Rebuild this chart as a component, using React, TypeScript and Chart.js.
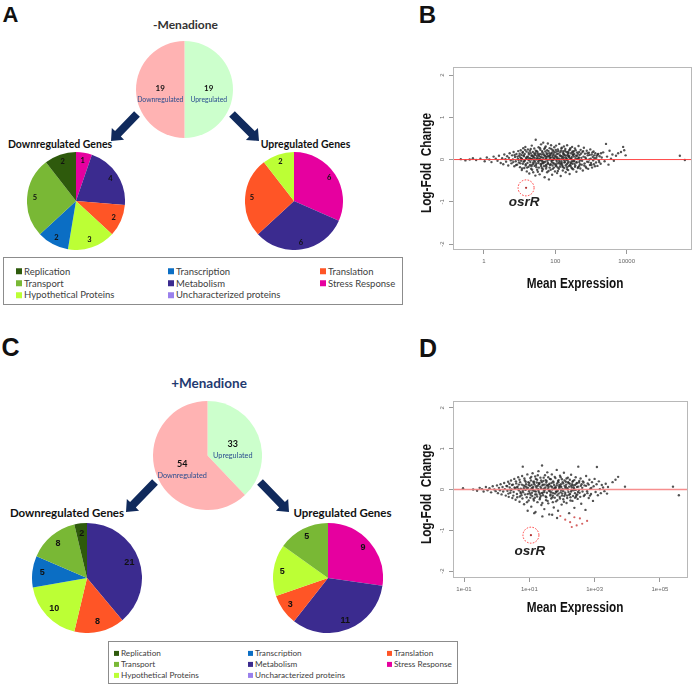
import React, { useEffect, useRef } from "react";
import { Chart, registerables } from "chart.js";
Chart.register(...registerables);

// ---------- DATA ----------
const categories = [
  "Replication", "Transcription", "Translation",
  "Transport", "Metabolism", "Stress Response",
  "Hypothetical Proteins", "Uncharacterized proteins",
];
const categoryColors = [
  "#2E5A0C", "#0B6EC4", "#FF5526",
  "#79B835", "#3B2B8F", "#E6009F",
  "#BCFF35", "#9A80EC",
];

const regLabels = ["Upregulated", "Downregulated"];
const regColors = ["#CCFFCC", "#FFB3B3"];
const minusRegCounts = [19, 19];
const plusRegCounts = [33, 54];

const minusDownCats = ["Stress Response", "Metabolism", "Translation", "Hypothetical Proteins", "Transcription", "Transport", "Replication"];
const minusDownCounts = [1, 4, 2, 3, 2, 5, 2];
const minusUpCats = ["Stress Response", "Metabolism", "Translation", "Hypothetical Proteins"];
const minusUpCounts = [6, 6, 5, 2];
const plusDownCats = ["Metabolism", "Translation", "Hypothetical Proteins", "Transcription", "Transport", "Replication"];
const plusDownCounts = [21, 8, 10, 5, 8, 2];
const plusUpCats = ["Stress Response", "Metabolism", "Translation", "Hypothetical Proteins", "Transport"];
const plusUpCounts = [9, 11, 3, 5, 5];

const yTickValues = [-2, -1, 0, 1, 2];
const yTickLabels = ["-2", "-1", "0", "1", "2"];
const bTickValues = [1, 100, 10000];
const bTickLabels = ["1", "100", "10000"];
const dTickValues = [0.1, 10, 1000, 100000];
const dTickLabels = ["1e-01", "1e+01", "1e+03", "1e+05"];

// [log10(mean expression), log-fold change]
const bOsrR: [number, number] = [1.18, -0.67];
const bPoints: [number, number][] = [
  [-0.65,0.01],[-0.52,-0.02],[-0.40,0.00],[-0.31,0.03],[-0.22,-0.01],[-0.10,0.02],[0.02,-0.04],[0.08,0.05],[0.15,0.00],[0.21,-0.06],[0.27,0.07],[0.33,0.02],[0.38,-0.03],[0.42,0.09],[0.47,-0.08],
  [0.51,0.03],[0.54,-0.11],[0.57,0.12],[0.60,0.01],[0.62,-0.05],[0.65,0.08],[0.68,-0.14],[0.70,0.04],[0.72,0.15],[0.75,-0.02],[0.77,-0.09],[0.79,0.10],[0.81,0.00],[0.83,0.18],[0.85,-0.16],[0.87,0.06],[0.89,-0.04],[0.91,0.13],[0.93,-0.12],[0.95,0.02],[0.96,0.20],[0.98,-0.07],[0.99,0.09],
  [1.01,-0.18],[1.02,0.05],[1.03,0.22],[1.04,-0.03],[1.05,0.11],[1.06,-0.25],[1.07,0.01],[1.08,0.16],[1.09,-0.10],[1.10,0.27],[1.11,-0.05],[1.12,0.08],[1.13,-0.20],[1.14,0.13],[1.15,-0.01],[1.16,0.30],[1.17,-0.14],[1.18,0.04],[1.19,0.19],[1.20,-0.28],[1.21,0.07],[1.22,-0.08],[1.23,0.24],[1.24,0.00],[1.25,-0.17],[1.26,0.12],[1.27,-0.33],[1.28,0.03],[1.29,0.21],[1.30,-0.06],[1.31,0.15],[1.32,-0.22],[1.33,0.09],[1.34,0.33],[1.35,-0.12],[1.36,0.02],[1.37,0.18],[1.38,-0.30],[1.39,0.06],[1.40,-0.02],[1.41,0.26],[1.42,-0.15],[1.43,0.11],[1.44,-0.38],[1.45,0.47],[1.46,0.00],[1.47,-0.09],[1.48,0.20],[1.49,-0.24],[1.50,0.05],
  [1.51,0.14],[1.52,-0.04],[1.53,0.29],[1.54,-0.19],[1.55,0.08],[1.56,-0.35],[1.57,0.01],[1.58,0.23],[1.59,-0.11],[1.60,0.36],[1.61,-0.02],[1.62,0.12],[1.63,-0.27],[1.64,0.17],[1.65,-0.07],[1.66,0.40],[1.67,0.04],[1.68,-0.16],[1.69,0.25],[1.70,-0.42],[1.71,0.09],[1.72,-0.05],[1.73,0.31],[1.74,-0.21],[1.75,0.02],[1.76,0.15],[1.77,-0.30],[1.78,0.07],[1.79,0.38],[1.80,-0.10],[1.81,0.20],[1.82,-0.47],[1.83,0.00],[1.84,0.27],[1.85,-0.13],[1.86,0.11],[1.87,-0.24],[1.88,0.34],[1.89,-0.03],[1.90,0.16],[1.91,-0.36],[1.92,0.06],[1.93,0.22],[1.94,-0.08],[1.95,0.13],[1.96,-0.19],[1.97,0.29],[1.98,0.01],[1.99,-0.28],
  [2.00,0.10],[2.01,-0.14],[2.02,0.33],[2.03,-0.01],[2.04,0.19],[2.05,-0.32],[2.06,0.05],[2.07,0.24],[2.08,-0.09],[2.09,0.14],[2.10,-0.22],[2.11,0.37],[2.12,0.02],[2.13,-0.17],[2.14,0.09],[2.15,-0.39],[2.16,0.21],[2.17,-0.04],[2.18,0.28],[2.19,-0.12],[2.20,0.07],[2.21,-0.26],[2.22,0.16],[2.23,0.00],[2.24,0.31],[2.25,-0.20],[2.26,0.11],[2.27,-0.06],[2.28,0.25],[2.29,-0.30],[2.30,0.04],[2.31,0.18],[2.32,-0.11],[2.33,0.34],[2.34,-0.02],[2.35,0.13],[2.36,-0.25],[2.37,0.08],[2.38,-0.15],[2.39,0.22],[2.40,-0.34],[2.41,0.03],[2.42,0.27],[2.43,-0.07],[2.44,0.15],[2.45,-0.19],[2.46,0.06],[2.47,0.30],[2.48,-0.10],[2.49,0.12],
  [2.50,-0.23],[2.52,0.20],[2.53,-0.03],[2.55,0.26],[2.56,-0.14],[2.58,0.09],[2.59,-0.29],[2.61,0.17],[2.62,0.01],[2.64,-0.18],[2.65,0.32],[2.67,-0.06],[2.68,0.11],[2.70,-0.21],[2.71,0.23],[2.73,0.04],[2.74,-0.12],[2.76,0.18],[2.77,-0.26],[2.79,0.07],[2.80,0.28],[2.82,-0.09],[2.83,0.14],[2.85,-0.17],[2.86,0.02],[2.88,0.21],[2.89,-0.05],[2.91,0.10],[2.92,-0.22],[2.94,0.16],[2.95,0.00],[2.97,-0.13],[2.98,0.24],[3.00,-0.08],[3.02,0.12],[3.03,-0.19],[3.05,0.06],[3.07,0.19],[3.08,-0.11],[3.10,0.03],[3.12,0.15],[3.14,-0.07],[3.16,0.09],[3.18,-0.15],[3.20,0.13],[3.22,-0.02],[3.24,0.08],[3.27,-0.10],[3.30,0.05],
  [3.34,0.17],[3.38,-0.04],[3.42,0.37],[3.45,0.07],[3.49,-0.12],[3.52,0.21],[3.56,0.02],[3.60,0.12],[3.64,-0.03],[3.70,0.09],[3.76,0.15],[3.84,0.18],[3.90,0.30],[3.93,0.22],[3.97,0.10],
  [5.49,0.09],[5.63,-0.01],
  [1.31,0.02],[1.35,0.10],[1.38,-0.07],[1.42,0.04],[1.46,-0.13],[1.50,0.18],[1.53,-0.08],[1.57,0.13],[1.60,-0.15],[1.63,0.05],[1.66,-0.09],[1.69,0.10],[1.72,0.19],[1.75,-0.12],[1.78,-0.03],[1.81,0.08],[1.84,-0.19],[1.87,0.04],[1.90,-0.06],[1.93,0.10],[1.96,0.03],[1.99,0.17],[2.02,-0.11],[2.05,0.13],[2.08,0.01],[2.11,-0.07],[2.14,0.17],[2.17,0.08],[2.20,-0.15],[2.23,0.12],[2.26,-0.02],[2.29,0.09],[2.32,0.02],[2.35,-0.08],[2.38,0.06],[2.41,-0.13],[2.44,0.01],[2.47,-0.04],[2.50,0.11],[2.54,-0.10],[2.57,0.03],[2.60,-0.07],[2.63,0.14],[2.66,0.05],[2.69,-0.02],[1.33,-0.16],[1.48,0.09],[1.62,-0.20],[1.77,0.12],[1.92,-0.14],[2.07,-0.19],[2.22,0.20],[2.37,0.16],[2.52,0.07],[2.67,-0.15],[1.58,-0.01],[1.73,-0.14],[1.88,0.14],[2.03,0.06],[2.18,-0.08],[2.33,-0.18],[2.48,0.19],[1.44,0.15],[1.54,0.01],[1.64,-0.04],[1.74,0.06],[1.84,0.09],[1.94,-0.01],[2.04,-0.05],[2.14,-0.12],[2.24,0.05],[2.34,0.10],[2.44,-0.09],
  [0.82,-0.06],[0.86,0.11],[0.90,-0.13],[0.94,0.07],[0.97,-0.01],[1.00,0.14],[1.02,-0.09],[1.05,0.03],[1.07,-0.21],[1.09,0.18],[1.11,0.10],[1.13,-0.04],[1.15,0.23],[1.17,-0.11],[1.19,0.02],[1.21,-0.19],[1.23,0.06],[1.25,0.16],[1.27,-0.02],[1.29,-0.13],[1.31,0.25],[1.33,0.00],[1.35,-0.24],[1.37,0.08],[1.39,-0.10],[1.41,0.14],[1.43,-0.05],[1.45,0.21],[1.47,-0.18],[1.49,0.02],[1.51,-0.29],[1.53,0.11],[1.55,-0.02],[1.57,0.27],[1.59,0.06],[1.61,-0.10],[1.63,0.20],[1.65,-0.23],[1.67,0.13],[1.69,-0.06],[1.71,0.28],[1.73,0.01],[1.75,-0.17],[1.77,0.22],[1.79,-0.08],[1.81,-0.27],[1.83,0.15],[1.85,0.05],[1.87,-0.11],[1.89,0.25],[1.91,-0.01],[1.93,-0.22],[1.95,0.19],[1.97,-0.10],[1.99,0.07],[2.01,0.23],[2.03,-0.16],[2.05,0.01],[2.07,-0.27],[2.09,0.20],[2.11,-0.03],[2.13,0.10],[2.15,-0.09],[2.17,0.26],[2.19,0.03],[2.21,-0.18],[2.23,0.14],[2.25,-0.07],[2.27,0.21],[2.29,-0.14],[2.31,0.00],[2.33,-0.23],[2.35,0.18],[2.37,-0.05],[2.39,0.09],[2.41,0.24],[2.43,-0.15],[2.45,0.02],[2.47,-0.21],[2.49,0.17],[2.51,-0.04],[2.53,0.13],[2.55,-0.17],[2.57,0.22],[2.59,-0.06],[2.61,0.09],[2.63,-0.20],[2.65,0.03],[2.67,0.18],[2.69,-0.11],[2.72,0.14],[2.75,-0.03],[2.78,0.20],[2.81,-0.14],[2.84,0.05],[2.87,-0.20],[2.90,0.15],[2.93,-0.06],[2.96,0.11],[2.99,0.02],[3.01,-0.13],[3.04,0.17],[3.06,-0.02],[3.09,0.10],[3.11,-0.16],[3.15,0.04],[3.19,0.12],[3.23,-0.06],[3.28,0.15],
];
const bSigPoints: [number, number][] = [];

const dOsrR: [number, number] = [1.05, -1.12];
const dPoints: [number, number][] = [
  [-1.03,0.03],[-0.72,0.00],[-0.60,-0.03],[-0.52,0.04],[-0.45,0.01],[-0.40,-0.05],[-0.33,0.06],[-0.28,-0.02],[-0.22,0.03],[-0.17,-0.07],[-0.12,0.08],[-0.07,0.00],[-0.03,-0.04],
  [0.01,0.10],[0.04,-0.09],[0.07,0.04],[0.10,-0.02],[0.12,0.13],[0.15,-0.12],[0.18,0.06],[0.20,-0.05],[0.23,0.16],[0.25,0.01],[0.28,-0.15],[0.30,0.09],[0.33,-0.03],[0.35,0.19],[0.37,-0.18],[0.40,0.05],[0.42,-0.08],[0.44,0.22],[0.46,0.00],[0.48,-0.21],
  [0.50,0.12],[0.52,-0.06],[0.54,0.26],[0.56,0.03],[0.58,-0.25],[0.60,0.15],[0.62,-0.11],[0.64,0.07],[0.66,0.30],[0.68,-0.02],[0.70,-0.30],[0.72,0.18],[0.74,0.02],[0.76,-0.14],[0.78,0.33],[0.80,0.56],[0.81,-0.07],[0.82,0.10],[0.84,-0.36],[0.86,0.22],[0.88,-0.01],[0.90,0.13],[0.92,-0.19],[0.94,0.37],[0.96,0.04],[0.98,-0.27],
  [1.00,0.16],[1.01,-0.09],[1.03,0.28],[1.04,0.00],[1.06,-0.42],[1.07,0.11],[1.09,-0.16],[1.10,0.40],[1.12,0.06],[1.13,-0.23],[1.15,0.19],[1.16,-0.04],[1.18,0.32],[1.19,-0.55],[1.21,0.08],[1.22,-0.12],[1.24,0.24],[1.25,-0.31],[1.27,0.01],[1.28,0.45],[1.30,-0.07],[1.31,0.14],[1.33,-0.20],[1.34,0.29],[1.36,0.03],[1.37,-0.38],[1.39,0.59],[1.40,0.10],[1.42,-0.14],[1.43,0.21],[1.45,-0.02],[1.46,-0.48],[1.48,0.35],[1.49,0.05],
  [1.51,-0.26],[1.52,0.17],[1.54,-0.08],[1.55,0.42],[1.57,0.02],[1.58,-0.34],[1.60,0.12],[1.61,-0.61],[1.63,0.26],[1.64,-0.05],[1.66,0.08],[1.67,-0.22],[1.69,0.37],[1.70,0.00],[1.72,-0.15],[1.73,0.20],[1.75,-0.44],[1.76,0.11],[1.78,0.31],[1.79,-0.10],[1.81,0.04],[1.82,-0.29],[1.84,0.48],[1.85,0.15],[1.87,-0.03],[1.88,-0.52],[1.90,0.23],[1.91,0.07],[1.93,-0.18],[1.94,0.34],[1.96,-0.07],[1.97,0.13],[1.99,-0.37],
  [2.00,0.25],[2.02,0.01],[2.04,-0.24],[2.06,0.41],[2.08,0.09],[2.10,-0.12],[2.12,0.19],[2.14,-0.33],[2.16,0.03],[2.18,0.29],[2.20,-0.06],[2.22,-0.58],[2.24,0.14],[2.26,-0.19],[2.28,0.36],[2.30,0.05],[2.32,-0.28],[2.34,0.21],[2.36,-0.02],[2.38,-0.45],[2.40,0.11],[2.42,0.30],[2.44,-0.14],[2.46,0.06],[2.48,-0.23],[2.50,0.56],
  [2.52,0.17],[2.54,-0.08],[2.57,0.27],[2.59,-0.35],[2.62,0.04],[2.64,0.20],[2.67,-0.16],[2.69,0.10],[2.72,-0.50],[2.74,0.33],[2.77,-0.04],[2.79,0.15],[2.82,-0.21],[2.84,0.24],[2.87,0.02],[2.89,-0.11],[2.92,0.18],[2.95,-0.28],[2.97,0.08],[3.00,0.26],[3.03,-0.06],[3.06,0.13],[3.07,0.55],[3.10,-0.14],[3.13,0.20],[3.16,0.01],[3.19,-0.09],[3.22,0.11],[3.26,0.05],[3.30,-0.04],[3.34,0.14],[3.38,-0.10],[3.41,0.06],
  [3.55,0.18],[3.64,0.24],[3.72,0.31],[3.93,0.07],[5.40,0.07],[5.58,-0.14],
  [0.62,0.05],[0.68,0.12],[0.74,-0.09],[0.80,-0.03],[0.86,0.08],[0.92,0.01],[0.98,0.11],[1.04,-0.13],[1.08,0.04],[1.14,0.15],[1.20,-0.05],[1.26,0.09],[1.32,-0.11],[1.38,0.18],[1.44,0.02],[1.50,-0.17],[1.56,0.10],[1.62,-0.01],[1.68,0.16],[1.74,-0.09],[1.80,0.06],[1.86,-0.14],[1.92,0.11],[1.98,-0.02],[2.04,0.15],[2.10,0.04],[2.16,-0.15],[2.22,0.07],[2.28,-0.05],[2.34,0.10],[2.40,-0.09],[2.46,0.16],[2.52,-0.01],[2.58,0.09],[0.71,-0.17],[0.89,0.19],[1.05,0.22],[1.17,-0.20],[1.29,0.13],[1.41,-0.08],[1.53,0.21],[1.65,-0.12],[1.77,0.03],[1.89,0.18],[2.01,-0.10],[2.13,0.12],[2.25,-0.11],[2.37,0.02],[2.49,-0.06],[0.95,-0.11],[1.11,-0.02],[1.23,0.17],[1.35,-0.16],[1.47,0.12],[1.59,0.06],[1.71,-0.19],[1.83,-0.06],[1.95,0.08],[2.07,-0.16],[2.19,0.18],[2.31,0.13],[2.43,-0.18],
  [1.15,-0.58],[1.40,-0.66],[1.70,-0.62],[1.85,-0.70],[0.95,-0.52],
  [0.32,0.08],[0.36,-0.10],[0.39,0.14],[0.43,-0.02],[0.47,0.11],[0.51,-0.15],[0.55,0.05],[0.59,0.20],[0.63,-0.19],[0.67,0.01],[0.70,0.24],[0.73,-0.06],[0.77,0.12],[0.79,-0.22],[0.83,0.03],[0.85,0.27],[0.87,-0.12],[0.91,0.06],[0.93,-0.31],[0.97,0.18],[0.99,-0.04],[1.02,0.09],[1.03,-0.20],[1.06,0.31],[1.08,-0.08],[1.10,0.02],[1.12,0.19],[1.14,-0.27],[1.16,0.12],[1.18,-0.12],[1.20,0.26],[1.22,0.04],[1.24,-0.17],[1.26,0.35],[1.28,-0.03],[1.30,0.16],[1.32,-0.24],[1.34,0.07],[1.36,0.22],[1.38,-0.09],[1.40,-0.33],[1.42,0.12],[1.44,0.29],[1.46,-0.06],[1.48,0.00],[1.50,0.23],[1.52,-0.19],[1.54,0.10],[1.56,-0.28],[1.58,0.30],[1.60,-0.03],[1.62,0.14],[1.64,-0.15],[1.66,0.25],[1.68,-0.07],[1.70,0.06],[1.72,-0.31],[1.74,0.17],[1.76,0.01],[1.78,-0.20],[1.80,0.28],[1.82,-0.05],[1.84,0.10],[1.86,-0.26],[1.88,0.21],[1.90,-0.10],[1.92,0.03],[1.94,-0.22],[1.96,0.30],[1.98,0.06],[2.00,-0.15],[2.02,0.18],[2.04,-0.04],[2.06,-0.30],[2.08,0.22],[2.10,-0.08],[2.12,0.07],[2.14,0.27],[2.16,-0.21],[2.18,0.00],[2.20,0.16],[2.22,-0.13],[2.24,0.24],[2.26,-0.27],[2.28,0.09],[2.30,-0.02],[2.32,0.19],[2.34,-0.16],[2.36,0.05],[2.38,0.23],[2.40,-0.20],[2.42,-0.01],[2.44,0.14],[2.47,-0.12],[2.50,0.07],[2.53,0.21],[2.56,-0.18],[2.60,0.13],[2.63,-0.05],[2.66,0.17],[2.70,-0.13],[2.74,0.09],[2.78,-0.09],[2.82,0.12],[2.86,-0.15],[2.90,0.04],
];
const dSigPoints: [number, number][] = [
  [1.95,-0.65],[2.10,-0.74],[2.25,-0.80],[2.38,-0.68],[2.45,-0.88],[2.55,-0.71],[2.62,-0.84],[2.77,-0.77],[2.30,-0.92],
];

// ---------- PLUGINS ----------
const pieLabels = {
  id: "pieLabels",
  afterDatasetsDraw(chart: any, _a: any, o: any) {
    const ctx = chart.ctx;
    const meta = chart.getDatasetMeta(0);
    const vals = chart.data.datasets[0].data;
    const names = chart.data.labels;
    ctx.save();
    ctx.textAlign = "center";
    ctx.textBaseline = "middle";
    meta.data.forEach((arc: any, i: number) => {
      const p = arc.getProps(["x", "y", "startAngle", "endAngle", "outerRadius"], true);
      const mid = (p.startAngle + p.endAngle) / 2;
      const r = p.outerRadius * o.radial;
      const px = p.x + Math.cos(mid) * r;
      const py = p.y + Math.sin(mid) * r;
      ctx.font = o.numFont;
      ctx.fillStyle = "#111";
      ctx.fillText(String(vals[i]), px, py + (o.numDy || 0));
      if (o.showName) {
        ctx.font = o.nameFont;
        ctx.fillStyle = o.nameColor;
        ctx.fillText(names[i], px, py + o.nameDy);
      }
    });
    ctx.restore();
  },
};

const maDecor = {
  id: "maDecor",
  afterDatasetsDraw(chart: any, _a: any, o: any) {
    const ctx = chart.ctx;
    const a = chart.chartArea;
    const xs = chart.scales.x;
    const ys = chart.scales.y;
    ctx.save();
    const y0 = ys.getPixelForValue(0);
    ctx.strokeStyle = o.lineColor;
    ctx.lineWidth = o.lineWidth;
    ctx.beginPath();
    ctx.moveTo(a.left, y0);
    ctx.lineTo(a.right, y0);
    ctx.stroke();
    ctx.strokeStyle = "#b8b8b8";
    ctx.lineWidth = 1;
    ctx.strokeRect(a.left + 0.5, a.top + 0.5, a.right - a.left - 1, a.bottom - a.top - 1);
    ctx.fillStyle = "#666";
    ctx.font = "6px 'Liberation Sans'";
    ctx.textAlign = "center";
    ctx.textBaseline = "middle";
    yTickValues.forEach((v, i) => {
      const py = ys.getPixelForValue(v);
      ctx.save();
      ctx.translate(a.left - 11, py);
      ctx.rotate(-Math.PI / 2);
      ctx.fillText(yTickLabels[i], 0, 0);
      ctx.restore();
    });
    const ox = xs.getPixelForValue(o.osr.x);
    const oy = ys.getPixelForValue(o.osr.y);
    ctx.strokeStyle = "#ff3b3b";
    ctx.lineWidth = 1;
    ctx.setLineDash([1.6, 1.4]);
    ctx.beginPath();
    ctx.arc(ox, oy, 8, 0, Math.PI * 2);
    ctx.stroke();
    ctx.setLineDash([]);
    ctx.fillStyle = "#222";
    ctx.font = "italic bold 13.5px 'Liberation Sans'";
    ctx.fillText("osrR", ox + o.labelDx, oy + o.labelDy);
    ctx.restore();
  },
};

// ---------- COMPONENTS ----------
function PieChart(props: any) {
  const ref = useRef<HTMLCanvasElement | null>(null);
  useEffect(() => {
    const chart = new Chart(ref.current as HTMLCanvasElement, {
      type: "pie",
      data: {
        labels: props.labels,
        datasets: [{ data: props.values, backgroundColor: props.colors, borderWidth: 0 }],
      },
      options: {
        animation: false,
        responsive: false,
        events: [],
        layout: { padding: 0 },
        plugins: { legend: { display: false }, tooltip: { enabled: false }, pieLabels: props.labelOpts } as any,
      },
      plugins: [pieLabels],
    });
    return () => chart.destroy();
  }, []);
  return (
    <div style={{ position: "absolute", left: props.left, top: props.top }}>
      <canvas ref={ref} width={props.size} height={props.size} style={{ display: "block" }} />
    </div>
  );
}

function MAPlot(props: any) {
  const ref = useRef<HTMLCanvasElement | null>(null);
  useEffect(() => {
    const toXY = (p: [number, number]) => ({ x: Math.pow(10, p[0]), y: p[1] });
    const osr = toXY(props.osr);
    const chart = new Chart(ref.current as HTMLCanvasElement, {
      type: "scatter",
      data: {
        datasets: [
          { data: props.points.map(toXY), pointRadius: 1.2, pointBackgroundColor: "rgba(40,40,40,0.8)", pointBorderWidth: 0 },
          { data: props.sig.map(toXY), pointRadius: 1.1, pointBackgroundColor: "rgba(205,70,70,0.85)", pointBorderWidth: 0 },
          { data: [osr], pointRadius: 1.1, pointBackgroundColor: "#b03030", pointBorderWidth: 0 },
        ],
      },
      options: {
        animation: false,
        responsive: false,
        events: [],
        layout: { padding: { top: props.padTop, right: props.padRight, left: 0, bottom: 0 } },
        plugins: {
          legend: { display: false },
          tooltip: { enabled: false },
          maDecor: { osr, lineColor: props.lineColor, lineWidth: props.lineWidth, labelDx: props.labelDx, labelDy: props.labelDy },
        } as any,
        scales: {
          x: {
            type: "logarithmic",
            min: props.xMin,
            max: props.xMax,
            afterBuildTicks: (s: any) => { s.ticks = props.xTicks.map((v: number) => ({ value: v })); },
            afterFit: (s: any) => { s.height = props.xAxisH; },
            ticks: {
              callback: (_v: any, i: number) => props.xLabels[i],
              font: { family: "'Liberation Sans'", size: 6 },
              color: "#666",
              padding: 4,
              maxRotation: 0,
              autoSkip: false,
            },
            grid: { drawOnChartArea: false, drawTicks: true, tickLength: 4, color: "#999" },
            border: { display: false },
          } as any,
          y: {
            min: props.yMin,
            max: props.yMax,
            afterBuildTicks: (s: any) => { s.ticks = yTickValues.map((v) => ({ value: v })); },
            afterFit: (s: any) => { s.width = props.yAxisW; },
            ticks: { display: false },
            grid: { drawOnChartArea: false, drawTicks: true, tickLength: 4, color: "#999" },
            border: { display: false },
          } as any,
        },
      },
      plugins: [maDecor],
    });
    return () => chart.destroy();
  }, []);
  return (
    <div style={{ position: "absolute", left: props.left, top: props.top }}>
      <canvas ref={ref} width={props.width} height={props.height} style={{ display: "block" }} />
    </div>
  );
}

function Txt(props: any) {
  const { x, y, rot, sx, style, children } = props;
  const tf = `translate(-50%,-50%)${rot ? " rotate(-90deg)" : ""}${sx ? ` scaleX(${sx})` : ""}`;
  return (
    <div style={{ position: "absolute", left: x, top: y, transform: tf, whiteSpace: "pre", lineHeight: 1, ...style }}>
      {children}
    </div>
  );
}

function CategoryLegend(props: any) {
  const { left, top, width, height, fontSize, colX, rowY, sw, gap } = props;
  return (
    <div style={{ position: "absolute", left, top, width, height, border: "1px solid #8c8c8c", boxSizing: "border-box" }}>
      {categories.map((c, i) => (
        <div key={c} style={{ position: "absolute", left: colX[i % 3], top: rowY[Math.floor(i / 3)], transform: "translateY(-50%)", display: "flex", alignItems: "center", fontFamily: "Lato", fontSize, color: "#404040", whiteSpace: "nowrap", lineHeight: 1 }}>
          <span style={{ display: "inline-block", width: sw, height: sw, background: categoryColors[i], marginRight: gap }} />
          {c}
        </div>
      ))}
    </div>
  );
}

function arrowPts(x1: number, y1: number, x2: number, y2: number, sw: number, hw: number, hl: number) {
  const dx = x2 - x1, dy = y2 - y1;
  const L = Math.hypot(dx, dy);
  const ux = dx / L, uy = dy / L;
  const nx = -uy, ny = ux;
  const bx = x2 - ux * hl, by = y2 - uy * hl;
  const pts = [
    [x1 + nx * sw / 2, y1 + ny * sw / 2],
    [bx + nx * sw / 2, by + ny * sw / 2],
    [bx + nx * hw / 2, by + ny * hw / 2],
    [x2, y2],
    [bx - nx * hw / 2, by - ny * hw / 2],
    [bx - nx * sw / 2, by - ny * sw / 2],
    [x1 - nx * sw / 2, y1 - ny * sw / 2],
  ];
  return pts.map((p) => p.join(",")).join(" ");
}

const colorOf = (names: string[]) => names.map((n) => categoryColors[categories.indexOf(n)]);

const topPieOpts = (numSize: number, nameSize: number) => ({
  radial: 0.5, numFont: `bold ${numSize}px Lato`, numDy: -1, showName: true,
  nameFont: `${nameSize}px Lato`, nameColor: "#2A4D8F", nameDy: 10,
});

export default function App() {
  const calibri = { fontFamily: "Lato", fontWeight: 700, color: "#111" };
  const arial = { fontFamily: "'Liberation Sans'", fontWeight: 700, color: "#111" };
  return (
    <div style={{ position: "absolute", left: 0, top: 0, width: 696, height: 688, background: "#fff", overflow: "hidden" }}>
      <Txt x={10.5} y={15} style={{ ...arial, fontSize: 22 }}>A</Txt>
      <Txt x={427.5} y={14.5} style={{ ...arial, fontSize: 24 }}>B</Txt>
      <Txt x={10.5} y={347} style={{ ...arial, fontSize: 25 }}>C</Txt>
      <Txt x={428} y={348} style={{ ...arial, fontSize: 25 }}>D</Txt>

      {/* Panel A */}
      <Txt x={185.5} y={25} style={{ ...calibri, fontSize: 12, color: "#333" }}>-Menadione</Txt>
      <PieChart left={136} top={41} size={97} labels={regLabels} values={minusRegCounts} colors={regColors} labelOpts={topPieOpts(8, 6.8)} />
      <Txt x={60} y={144} style={{ ...calibri, fontSize: 10.5 }}>Downregulated Genes</Txt>
      <Txt x={305.5} y={144} style={{ ...calibri, fontSize: 10.5 }}>Upregulated Genes</Txt>
      <PieChart left={27} top={152} size={98} labels={minusDownCats} values={minusDownCounts} colors={colorOf(minusDownCats)} labelOpts={{ radial: 0.84, numFont: "bold 7.5px Lato" }} />
      <PieChart left={245} top={152} size={98} labels={minusUpCats} values={minusUpCounts} colors={colorOf(minusUpCats)} labelOpts={{ radial: 0.86, numFont: "bold 7.5px Lato" }} />
      <CategoryLegend left={3} top={257} width={400} height={48} fontSize={9.5} colX={[12, 164, 316]} rowY={[13.7, 25.7, 37.3]} sw={6} gap={2} />

      {/* Panel C */}
      <Txt x={209} y={384} style={{ ...calibri, fontSize: 13.5, color: "#1F3A70" }}>+Menadione</Txt>
      <PieChart left={153} top={401} size={109} labels={regLabels} values={plusRegCounts} colors={regColors} labelOpts={topPieOpts(9, 7.3)} />
      <Txt x={67} y={513} style={{ ...calibri, fontSize: 11.5 }}>Downregulated Genes</Txt>
      <Txt x={342.5} y={513} style={{ ...calibri, fontSize: 11.5 }}>Upregulated Genes</Txt>
      <PieChart left={32} top={523} size={110} labels={plusDownCats} values={plusDownCounts} colors={colorOf(plusDownCats)} labelOpts={{ radial: 0.82, numFont: "bold 9px 'Liberation Sans'" }} />
      <PieChart left={273} top={523} size={110} labels={plusUpCats} values={plusUpCounts} colors={colorOf(plusUpCats)} labelOpts={{ radial: 0.84, numFont: "bold 9px 'Liberation Sans'" }} />
      <CategoryLegend left={108} top={641} width={350} height={43} fontSize={8.2} colX={[5, 139, 278]} rowY={[11, 22, 33]} sw={5} gap={2} />

      <svg width={696} height={688} style={{ position: "absolute", left: 0, top: 0, pointerEvents: "none" }}>
        <polygon points={arrowPts(137, 114, 111, 141, 8, 17, 10)} fill="#102A5C" />
        <polygon points={arrowPts(232, 114, 259, 141, 8, 17, 10)} fill="#102A5C" />
        <polygon points={arrowPts(155, 482, 126, 512, 8, 17, 10)} fill="#102A5C" />
        <polygon points={arrowPts(260, 482, 289, 512, 8, 17, 10)} fill="#102A5C" />
      </svg>

      {/* Panel B */}
      <MAPlot left={400} top={50} width={296} height={250} points={bPoints} sig={bSigPoints} osr={bOsrR}
        xMin={Math.pow(10, -0.868)} xMax={Math.pow(10, 5.83)} xTicks={bTickValues} xLabels={bTickLabels}
        yMin={-2.14} yMax={2.19} padTop={17} padRight={4} yAxisW={53} xAxisH={50}
        lineColor="rgba(255,60,60,0.95)" lineWidth={1} labelDx={-2} labelDy={14} />
      <Txt x={425.5} y={163} rot sx={0.84} style={{ ...arial, fontSize: 14 }}>{"Log-Fold  Change"}</Txt>
      <Txt x={575} y={283} sx={0.84} style={{ ...arial, fontSize: 14 }}>Mean Expression</Txt>

      {/* Panel D */}
      <MAPlot left={400} top={380} width={296} height={250} points={dPoints} sig={dSigPoints} osr={dOsrR}
        xMin={Math.pow(10, -1.337)} xMax={Math.pow(10, 5.86)} xTicks={dTickValues} xLabels={dTickLabels}
        yMin={-2.17} yMax={2.17} padTop={21} padRight={8} yAxisW={53} xAxisH={52}
        lineColor="rgba(245,130,130,0.9)" lineWidth={1.6} labelDx={-1} labelDy={16} />
      <Txt x={425.5} y={493.5} rot sx={0.84} style={{ ...arial, fontSize: 14 }}>{"Log-Fold  Change"}</Txt>
      <Txt x={575} y={607} sx={0.84} style={{ ...arial, fontSize: 14 }}>Mean Expression</Txt>
    </div>
  );
}
